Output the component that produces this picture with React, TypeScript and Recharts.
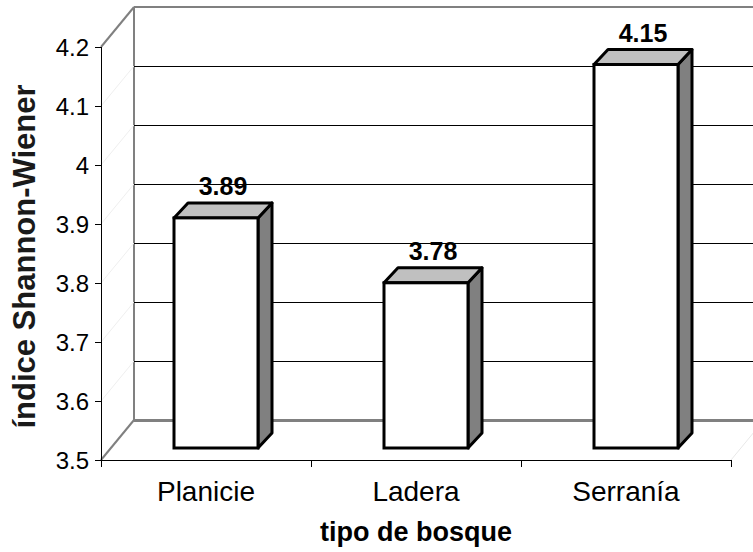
import React from 'react';
import { BarChart, Bar, XAxis, YAxis, CartesianGrid } from 'recharts';

// data
const categories = ['Planicie', 'Ladera', 'Serranía'];
const shannonValues = [3.89, 3.78, 4.15];
const yTicks = [3.5, 3.6, 3.7, 3.8, 3.9, 4.0, 4.1, 4.2];

const data = categories.map((name, i) => ({ name, value: shannonValues[i] }));

const W = 753;
const H = 552;
const LEFT = 101;
const TOP = 47;
const RIGHT = 22;
const BOTTOM = 92;
const PLOT_W = W - LEFT - RIGHT;
const PLOT_H = H - TOP - BOTTOM;

// back wall sits behind the front axes by this offset
const WALL_DX = 33;
const WALL_DY = -40;
// bar front faces sit a bit behind the axes too
const BAR_DX = 10;
const BAR_DY = -12;
// depth of each box
const DEPTH_DX = 14;
const DEPTH_DY = -15;

const FONT = '"Liberation Sans", Arial, Helvetica, sans-serif';

// horizontal grid lines get pushed back onto the back wall
const gridLine = (p: any) => {
  const { x1, x2, y1, index } = p;
  const bx1 = x1 + WALL_DX;
  const bx2 = x2 + WALL_DX;
  const by = y1 + WALL_DY;
  const isBottom = Math.abs(y1 - (TOP + PLOT_H)) < 1;
  const isTop = Math.abs(y1 - TOP) < 1;
  const edge = isTop || isBottom;
  return (
    <g key={`grid-${index}`}>
      <line
        x1={x1}
        y1={y1}
        x2={bx1}
        y2={by}
        stroke={edge ? '#808080' : '#efefef'}
        strokeWidth={edge ? 2 : 1}
      />
      {isBottom && <line x1={x2} y1={y1} x2={bx2} y2={by} stroke="#e8e8e8" />}
      {isBottom && (
        <line
          x1={bx1}
          y1={by}
          x2={bx1}
          y2={TOP + WALL_DY}
          stroke="#808080"
          strokeWidth={2}
          shapeRendering="crispEdges"
        />
      )}
      <line
        x1={bx1}
        y1={by}
        x2={bx2}
        y2={by}
        stroke={edge ? '#808080' : '#000'}
        strokeWidth={isBottom ? 3 : edge ? 2.5 : 1}
        shapeRendering="crispEdges"
      />
    </g>
  );
};

const Box3D = (p: any) => {
  const { x, y, width, height } = p;
  const fx = x + BAR_DX;
  const fy = y + BAR_DY;
  const fr = fx + width;
  const fb = fy + height;
  const top = `${fx},${fy} ${fx + DEPTH_DX},${fy + DEPTH_DY} ${fr + DEPTH_DX},${fy + DEPTH_DY} ${fr},${fy}`;
  const side = `${fr},${fy} ${fr + DEPTH_DX},${fy + DEPTH_DY} ${fr + DEPTH_DX},${fb + DEPTH_DY} ${fr},${fb}`;
  return (
    <g>
      <polygon points={side} fill="#808080" stroke="#000" strokeWidth={3} strokeLinejoin="round" />
      <polygon points={top} fill="#c0c0c0" stroke="#000" strokeWidth={3} strokeLinejoin="round" />
      <rect x={fx} y={fy} width={width} height={height} fill="#fff" stroke="#000" strokeWidth={3} />
    </g>
  );
};

const renderValueLabel = (p: any) => {
  const { x, y, width, value, index } = p;
  return (
    <text
      key={`lbl-${index}`}
      x={x + width / 2 + BAR_DX + DEPTH_DX / 2}
      y={y + BAR_DY + DEPTH_DY - 8}
      textAnchor="middle"
      fontFamily={FONT}
      fontWeight="bold"
      fontSize={25}
      fill="#000"
    >
      {value}
    </text>
  );
};

// category labels, tick marks sit on the category boundaries
const CategoryTick = (p: any) => {
  const { x, y, payload, index } = p;
  const band = PLOT_W / categories.length;
  return (
    <g>
      {index === 0 && (
        <line x1={x - band / 2} y1={y} x2={x - band / 2} y2={y + 7} stroke="#000" shapeRendering="crispEdges" />
      )}
      <line x1={x + band / 2} y1={y} x2={x + band / 2} y2={y + 7} stroke="#000" shapeRendering="crispEdges" />
      <text x={x} y={y + 41} textAnchor="middle" fontFamily={FONT} fontSize={28} fill="#000">
        {payload.value}
      </text>
    </g>
  );
};

const renderXTitle = () => (
  <text
    x={LEFT + PLOT_W / 2}
    y={TOP + PLOT_H + 81}
    textAnchor="middle"
    fontFamily={FONT}
    fontWeight="bold"
    fontSize={27}
    fill="#000"
  >
    tipo de bosque
  </text>
);

const renderYTitle = () => {
  const cx = 35;
  const cy = TOP + PLOT_H / 2 + 3;
  return (
    <text
      x={cx}
      y={cy}
      transform={`rotate(-90 ${cx} ${cy})`}
      textAnchor="middle"
      fontFamily={FONT}
      fontWeight="bold"
      fontSize={31}
      fill="#1a1a1a"
    >
      índice Shannon-Wiener
    </text>
  );
};

export default function App() {
  return (
    <div style={{ position: 'absolute', left: 0, top: 0, width: W, height: H, background: '#fff' }}>
      <BarChart
        width={W}
        height={H}
        data={data}
        margin={{ top: TOP, right: RIGHT, bottom: 0, left: 0 }}
      >
        <CartesianGrid vertical={false} horizontal={gridLine} />
        <XAxis
          dataKey="name"
          height={BOTTOM}
          axisLine={{ stroke: '#000', shapeRendering: 'crispEdges' }}
          tickLine={false}
          tickSize={0}
          tickMargin={0}
          tick={<CategoryTick />}
          interval={0}
          label={renderXTitle}
        />
        <YAxis
          type="number"
          domain={[3.5, 4.2]}
          ticks={yTicks}
          interval={0}
          width={LEFT}
          axisLine={{ stroke: '#000', shapeRendering: 'crispEdges' }}
          tickLine={{ stroke: '#000', shapeRendering: 'crispEdges' }}
          tickSize={6}
          tickMargin={6}
          tick={{ fontSize: 24, fill: '#000', fontFamily: FONT }}
          allowDataOverflow
          label={renderYTitle}
        />
        <Bar
          dataKey="value"
          barSize={84}
          shape={<Box3D />}
          label={renderValueLabel}
          isAnimationActive={false}
        />
      </BarChart>
    </div>
  );
}
